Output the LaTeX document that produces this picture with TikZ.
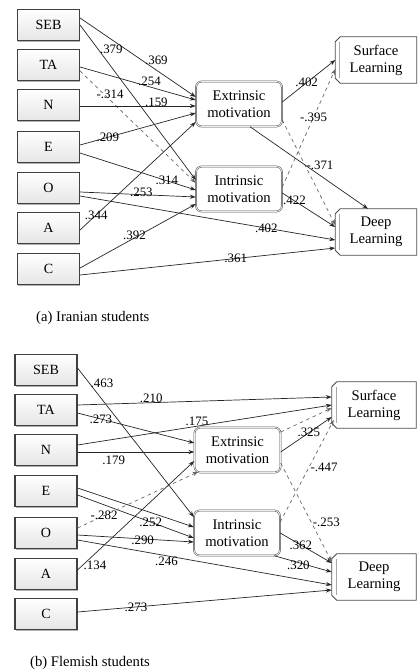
\documentclass[tikz,border=0pt]{standalone}
\usepackage{fontspec}
\setmainfont{Liberation Serif}
\usepackage{xcolor}
\usetikzlibrary{calc,arrows.meta,shadows}
\newcommand{\pu}{0.03cm}
% ramme med skrå hjørner til venstre
\newcommand{\lrnframe}[1]{%
  \draw[draw=black!70, line width=0.8pt] ($(#1.north west)+(5,0)$) -- (#1.north east)
    -- (#1.south east) -- ($(#1.south west)+(5,0)$) -- ($(#1.south west)+(0,-5)$)
    -- ($(#1.north west)+(0,5)$) -- cycle;
  \draw[gray!70] ($(#1.north west)+(4,5)$) -- ($(#1.south west)+(4,-5)$);}
\tikzset{
  var/.style={draw=black!75, line width=0.9pt, top color=white, bottom color=gray!20,
    minimum width=62*\pu, minimum height=31*\pu, inner sep=0pt,
    font=\fontsize{12}{14}\selectfont,
    drop shadow={shadow xshift=0.5pt, shadow yshift=-1.2pt, fill=black!60}},
  mot/.style={draw=black!70, rounded corners=5pt, double=gray!15, double distance=0.7pt,
    fill=white, minimum width=86*\pu, minimum height=45*\pu, inner sep=1pt,
    align=center, font=\fontsize{12.5}{14.5}\selectfont},
  lrn/.style={rectangle, fill=white, minimum width=81*\pu, minimum height=46*\pu,
    inner sep=1pt, align=center, font=\fontsize{12.5}{14.5}\selectfont},
  arr/.style={-{Stealth[length=5pt,width=3.5pt]}, line width=0.6pt, black!85},
  neg/.style={arr, dashed, black!60},
  lbl/.style={font=\fontsize{11}{12}\selectfont, inner sep=1pt, text=black},
  captxt/.style={font=\fontsize{12.5}{14}\selectfont, inner sep=0pt}
}
\begin{document}
\begin{tikzpicture}[x=\pu, y=-\pu]
  \useasboundingbox (0,0) rectangle (417,671);
  % Panel (a): iranske studenter
  \node[var] (seba) at (48.5,25) {SEB};
  \node[var] (taa) at (48.5,65) {TA};
  \node[var] (na) at (48.5,105) {N};
  \node[var] (ea) at (48.5,147) {E};
  \node[var] (oa) at (48.5,188) {O};
  \node[var] (aa) at (48.5,228) {A};
  \node[var] (ca) at (48.5,269) {C};
  \node[mot] (exta) at (239,104) {Extrinsic\\motivation};
  \node[mot] (inta) at (239,189) {Intrinsic\\motivation};
  \node[lrn] (surfa) at (376,60) {Surface\\Learning};
  \node[lrn] (deepa) at (376,232) {Deep\\Learning};
  \lrnframe{surfa}
  \lrnframe{deepa}
  % Stier (a)
  \draw[arr] ($(seba.east)+(0,-7)$) -- ($(exta.west)+(0,-7)$) node[lbl,pos=0.66,above=3pt] {.369};
  \draw[arr] (seba.east) -- ($(inta.west)+(0,-9)$) node[lbl,pos=0.16,right] {.379};
  \draw[arr] ($(taa.east)+(0,2)$) -- ($(exta.west)+(0,-4)$) node[lbl,pos=0.6,above] {.254};
  \draw[neg] ($(taa.east)+(0,6)$) -- ($(inta.west)+(0,-6)$) node[lbl,pos=0.26,above] {-.314};
  \draw[arr] ($(na.east)+(0,1)$) -- ($(exta.west)+(0,2)$) node[lbl,pos=0.66,above=-2pt] {.159};
  \draw[arr] ($(ea.east)+(0,-2)$) -- ($(exta.west)+(0,9)$) node[lbl,pos=0.24] {.209};
  \draw[arr] ($(ea.east)+(0,6)$) -- ($(inta.west)+(0,1)$) node[lbl,pos=0.75] {.314};
  \draw[arr] ($(oa.east)+(0,4)$) -- ($(inta.west)+(0,8)$) node[lbl,pos=0.53,above=-3pt] {.253};
  \draw[arr] ($(oa.east)+(0,8)$) -- ($(deepa.west)+(0,8)$) node[lbl,pos=0.73] {.402};
  \draw[arr] ($(aa.east)+(0,2)$) -- ($(exta.west)+(0,18)$) node[lbl,pos=0.14] {.344};
  \draw[arr] ($(ca.east)+(0,-1)$) -- ($(inta.west)+(0,15)$) node[lbl,pos=0.47,above=-3pt] {.392};
  \draw[arr] ($(ca.east)+(0,6)$) -- ($(deepa.west)+(0,16)$) node[lbl,pos=0.61] {.361};
  \draw[arr] ($(exta.east)+(0,-2)$) -- (surfa.west) node[lbl,pos=0.46] {.402};
  \draw[neg] ($(exta.east)+(0,16)$) -- ($(deepa.west)+(0,-7)$) node[lbl,pos=0.43,right] {-.371};
  \draw[neg] ($(inta.east)+(0,-2)$) -- ($(surfa.west)+(0,9)$) node[lbl,pos=0.59] {-.395};
  \draw[arr] ($(exta.south)+(11,0)$) -- ($(deepa.north)+(-8,0)$);
  \draw[arr] ($(inta.east)+(0,4)$) -- ($(deepa.west)+(0,-5)$) node[lbl,pos=0.23] {.422};
  \node[captxt,anchor=west] (capa) at (36,318) {(a) Iranian students};
  % Panel (b): flamske studenter
  \node[var] (sebb) at (46,370) {SEB};
  \node[var] (tab) at (46,410) {TA};
  \node[var] (nb) at (46,450) {N};
  \node[var] (eb) at (46,491) {E};
  \node[var] (ob) at (46,533) {O};
  \node[var] (ab) at (46,574) {A};
  \node[var] (cb) at (46,614) {C};
  \node[mot] (extb) at (237.5,450) {Extrinsic\\motivation};
  \node[mot] (intb) at (237,533) {Intrinsic\\motivation};
  \node[lrn,minimum width=84*\pu] (surfb) at (374,405) {Surface\\Learning};
  \node[lrn,minimum width=84*\pu] (deepb) at (374,577) {Deep\\Learning};
  \lrnframe{surfb}
  \lrnframe{deepb}
  % Stier (b)
  \draw[arr] ($(sebb.east)+(0,-2)$) -- ($(intb.west)+(0,-16)$) node[lbl,pos=0.1,right] {.463};
  \draw[arr] ($(tab.east)+(0,-5)$) -- ($(surfb.west)+(0,-8)$) node[lbl,pos=0.29,above=-1pt] {.210};
  \draw[arr] ($(tab.east)+(0,3)$) -- ($(extb.west)+(0,-7)$) node[lbl,pos=0.2] {.273};
  \draw[arr] ($(nb.east)+(0,-5)$) -- (surfb.west) node[lbl,pos=0.47,above=-1pt] {.175};
  \draw[arr] ($(nb.east)+(0,2)$) -- ($(extb.west)+(0,2)$) node[lbl,pos=0.31,below=2pt] {.179};
  \draw[arr] ($(eb.east)+(0,-3)$) -- ($(intb.west)+(0,-6)$);
  \draw[arr] ($(eb.east)+(0,4)$) -- ($(intb.west)+(0,5)$) node[lbl,pos=0.63] {.252};
  \draw[neg] ($(ob.east)+(0,-5)$) -- ($(extb.south west)+(4,-1)$) node[lbl,pos=0.22] {-.282};
  \draw[arr] ($(ob.east)+(0,2)$) -- ($(intb.west)+(0,9)$) node[lbl,pos=0.56,below=-4pt] {.290};
  \draw[arr] ($(ob.east)+(0,7)$) -- ($(deepb.west)+(0,8)$) node[lbl,pos=0.35,below] {.246};
  \draw[arr] ($(ab.east)+(0,-4)$) -- ($(extb.west)+(0,11)$) node[lbl,pos=0.04,right] {.134};
  \draw[arr] ($(cb.east)+(0,-2)$) -- ($(deepb.west)+(0,13)$) node[lbl,pos=0.23] {.273};
  \draw[neg] ($(extb.east)+(0,-18)$) -- ($(surfb.west)+(0,3)$);
  \draw[arr] ($(extb.east)+(0,2)$) -- ($(surfb.west)+(0,12)$) node[lbl,pos=0.55] {.325};
  \draw[neg] ($(extb.east)+(0,13)$) -- ($(deepb.west)+(0,-15)$) node[lbl,pos=0.6,right] {-.253};
  \draw[neg] ($(intb.east)+(0,-11)$) -- ($(surfb.west)+(2,15)$) node[lbl,pos=0.54,right] {-.447};
  \draw[arr] (intb.east) -- ($(deepb.west)+(0,-14)$) node[lbl,pos=0.4] {.362};
  \draw[arr] ($(intb.south east)+(-6,0)$) -- ($(deepb.west)+(0,-5)$) node[lbl,pos=0.42,below=-3pt] {.320};
  \node[captxt,anchor=west] (capb) at (30,663) {(b) Flemish students};
\end{tikzpicture}
\end{document}
